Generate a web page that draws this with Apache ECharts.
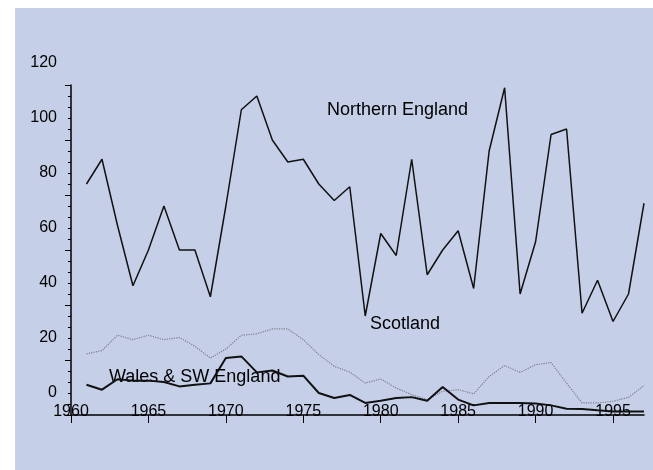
<!DOCTYPE html>
<html>
<head>
<meta charset="utf-8">
<script src="https://cdn.jsdelivr.net/npm/echarts@6/dist/echarts.min.js"></script>
<style>
  html, body { margin: 0; padding: 0; background: #fff; }
  #bg { position: absolute; left: 15px; top: 8px; width: 638px; height: 462px; background: #c6cfe8; }
  #main { position: absolute; left: 0; top: 0; width: 653px; height: 470px; }
</style>
</head>
<body>
<div id="bg"></div>
<div id="main"></div>
<script>
// years of the series
var years = [1961, 1962, 1963, 1964, 1965, 1966, 1967, 1968, 1969, 1970,
  1971, 1972, 1973, 1974, 1975, 1976, 1977, 1978, 1979, 1980,
  1981, 1982, 1983, 1984, 1985, 1986, 1987, 1988, 1989, 1990,
  1991, 1992, 1993, 1994, 1995, 1996, 1997];

var northernEngland = [76, 85, 61, 39, 52, 68, 52, 52, 35, 68,
  103, 108, 92, 84, 85, 76, 70, 75, 28, 58,
  50, 85, 43, 52, 59, 38, 88, 111, 36, 55,
  94, 96, 29, 41, 26, 36, 69];

var scotland = [14.2, 15.4, 21, 19.4, 21, 19.4, 20.2, 17, 12.7, 16,
  21, 21.5, 23.3, 23.3, 19.4, 14, 9.7, 7.6, 3.6, 5.1,
  1.8, -0.6, -2.4, 0.6, 1.2, -0.3, 6, 10, 7.5, 10.3,
  11.1, 3.6, -3.6, -3.6, -3, -1.6, 2.7];

var walesSW = [3, 1.2, 5, 4.5, 4.5, 4, 2.4, 3, 3.5, 12.7,
  13.3, 7.5, 8.2, 6, 6.3, 0, -1.8, -0.7, -3.6, -2.8,
  -1.8, -1.5, -2.8, 2.2, -2.4, -4.5, -3.6, -3.6, -3.6, -3.8,
  -4.5, -5.7, -5.8, -6.3, -6.7, -6.7, -6.7];

var xTicks = [1960, 1965, 1970, 1975, 1980, 1985, 1990, 1995];
var yLabels = [0, 20, 40, 60, 80, 100, 120];

function pairs(vals) {
  return years.map(function (y, i) { return [y, vals[i]]; });
}

var font = 'Liberation Sans, Arial, sans-serif';
var chart = echarts.init(document.getElementById('main'), null, { renderer: 'canvas' });

chart.setOption({
  animation: false,
  backgroundColor: 'transparent',
  grid: [
    { left: 71, right: 9, top: 85, bottom: 55 },   // data
    { left: 71, right: 9, top: 63, bottom: 77 }    // y labels only
  ],
  xAxis: [{
    type: 'value',
    gridIndex: 0,
    min: 1960,
    max: 1997,
    interval: 5,
    splitLine: { show: false },
    axisLine: { onZero: false, lineStyle: { color: '#000', width: 1.5 } },
    axisTick: { show: true, length: 8, customValues: xTicks, lineStyle: { color: '#000' } },
    axisLabel: {
      customValues: xTicks,
      formatter: function (v) { return String(v); },
      color: '#000', fontFamily: font, fontSize: 16,
      verticalAlign: 'middle', margin: -3
    }
  }, {
    type: 'value', gridIndex: 1, min: 1960, max: 1997, show: false
  }],
  yAxis: [{
    type: 'value',
    gridIndex: 0,
    min: -8,
    max: 112,
    interval: 20,
    splitLine: { show: false },
    axisLine: { show: true, onZero: false, lineStyle: { color: '#000', width: 1.5 } },
    axisTick: { show: true, length: 6, lineStyle: { color: '#000' } },
    minorTick: { show: true, splitNumber: 5, length: 3, lineStyle: { color: '#000' } },
    axisLabel: { show: false }
  }, {
    type: 'value',
    gridIndex: 1,
    min: 0,
    max: 120,
    interval: 20,
    splitLine: { show: false },
    axisLine: { show: false },
    axisTick: { show: false },
    axisLabel: { customValues: yLabels, color: '#000', fontFamily: font, fontSize: 16, margin: 14 }
  }],
  series: [{
    name: 'Northern England',
    type: 'line',
    data: pairs(northernEngland),
    symbol: 'none',
    lineStyle: { color: '#111', width: 1.5 }
  }, {
    name: 'Scotland',
    type: 'line',
    data: pairs(scotland),
    symbol: 'none',
    lineStyle: { color: '#7a7f8c', width: 1.2, type: 'dotted' }
  }, {
    name: 'Wales & SW England',
    type: 'line',
    data: pairs(walesSW),
    symbol: 'none',
    lineStyle: { color: '#111', width: 2 }
  }],
  graphic: [
    { type: 'text', left: 327, top: 101, style: { text: 'Northern England', fill: '#000', font: '18px ' + font } },
    { type: 'text', left: 370, top: 315, style: { text: 'Scotland', fill: '#000', font: '18px ' + font } },
    { type: 'text', left: 109, top: 368, style: { text: 'Wales & SW England', fill: '#000', font: '18px ' + font } }
  ]
});
</script>
</body>
</html>
